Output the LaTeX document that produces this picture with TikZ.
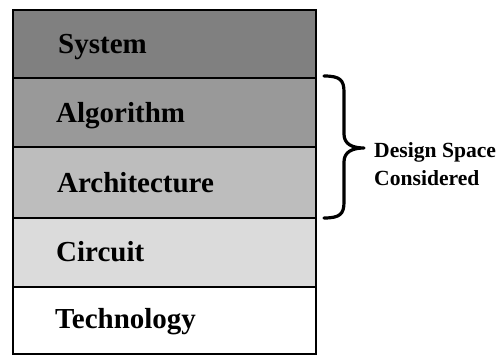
\documentclass[tikz,border=0pt]{standalone}
\usepackage{fontspec}
\setmainfont{Liberation Serif}
\begin{document}
\begin{tikzpicture}[x=1pt,y=-1pt,
  layer/.style={draw=black,line width=1.3pt},
  lbl/.style={anchor=base west,inner sep=0pt,font=\fontsize{29}{30}\selectfont\bfseries},
  side/.style={anchor=base west,inner sep=0pt,font=\fontsize{21.6}{24}\selectfont\bfseries}]
\useasboundingbox (0,0) rectangle (496,356);
\definecolor{cSys}{gray}{0.50}
\definecolor{cAlg}{gray}{0.60}
\definecolor{cArc}{gray}{0.74}
\definecolor{cCir}{gray}{0.86}
\fill[cSys] (13,10) rectangle (316,78);
\fill[cAlg] (13,78) rectangle (316,147);
\fill[cArc] (13,147) rectangle (316,218);
\fill[cCir] (13,218) rectangle (316,287);
\fill[white] (13,287) rectangle (316,354);
\draw[layer] (13,10) rectangle (316,354);
\draw[layer] (13,78) -- (316,78);
\draw[layer] (13,147) -- (316,147);
\draw[layer] (13,218) -- (316,218);
\draw[layer] (13,287) -- (316,287);
\node[lbl] (sys) at (58,53) {System};
\node[lbl] (alg) at (56,122) {Algorithm};
\node[lbl] (arc) at (57,192) {Architecture};
\node[lbl] (cir) at (56,261) {Circuit};
\node[lbl] (tec) at (55,328) {Technology};
\draw[line width=3.2pt,line cap=round,line join=round]
  (324,76) .. controls (340,76) and (344,80) .. (344,92)
  -- (344,134) .. controls (344,144) and (352,148) .. (364,148)
  .. controls (352,148) and (344,152) .. (344,162)
  -- (344,202) .. controls (344,214) and (340,218) .. (324,218);
\node[side] (ds) at (374,157) {Design Space};
\node[side] (co) at (374,185) {Considered};
\end{tikzpicture}
\end{document}
